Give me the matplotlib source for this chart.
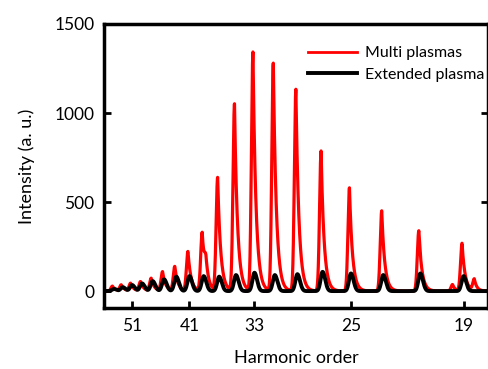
import numpy as np
import matplotlib
matplotlib.use("Agg")
import matplotlib.pyplot as plt

# -----------------------
# DATA (peak heights, a.u.)
# -----------------------
orders = [19, 21, 23, 25, 27, 29, 31, 33, 35, 37, 39, 41, 43, 45, 47, 49, 51, 53, 55]
multi_peaks = [268, 339, 451, 580, 787, 1133, 1279, 1341, 1050, 636, 324,
               221, 137, 108, 71, 52, 43, 34, 28]
extended_peaks = [84, 99, 90, 99, 108, 95, 90, 103, 90, 81, 84,
                  84, 81, 66, 56, 43, 34, 22, 12]
# small side features of the multi-plasma spectrum: (position in order, height)
multi_extra_pos = [38.7, 19.48, 18.55]
multi_extra_val = [110, 37, 65]

tick_orders = [51, 41, 33, 25, 19]

# -----------------------
# DETECTOR AXIS (position ~ order**-0.6)
# -----------------------
P = 0.6
def fwd(q):
    q = np.clip(np.asarray(q, dtype=float), 1e-3, None)
    return -q ** -P

def inv(u):
    u = np.clip(np.asarray(u, dtype=float), None, -1e-6)
    return (-u) ** (-1 / P)

px = 1 / 4347.0  # one pixel in position units
u = np.linspace(0.085, 0.18, 8000)
q_grid = u ** (-1 / P)

def line_shape(centers, heights, s_left, tau_right, shift=0.0):
    # steep gaussian rise, exponential tail towards longer wavelength
    y = np.zeros_like(u)
    for c, h in zip(centers, heights):
        d = u - (c ** -P + shift)
        left = np.exp(-0.5 * (d / s_left) ** 2)
        right = np.exp(-np.clip(d, 0, None) / tau_right)
        y += h * np.where(d < 0, left, right)
    return y

def smooth_shape(centers, heights, s_left, s_right):
    y = np.zeros_like(u)
    for c, h in zip(centers, heights):
        d = u - c ** -P
        s = np.where(d < 0, s_left, s_right)
        y += h * np.exp(-0.5 * (d / s) ** 2)
    return y

red = line_shape(orders, multi_peaks, 1.5 * px, 3.0 * px, shift=-1.5 * px)
red += line_shape(multi_extra_pos, multi_extra_val, 1.5 * px, 2.5 * px)
black = smooth_shape(orders, extended_peaks, 2.0 * px, 2.6 * px)

# -----------------------
# PLOT
# -----------------------
plt.rcParams["font.family"] = ["Lato", "DejaVu Sans"]
fig = plt.figure(figsize=(4.89, 3.69), dpi=100)
ax = fig.add_axes([104 / 489, 1 - 308 / 369, 384 / 489, 284 / 369])
ax.set_xscale("function", functions=(fwd, inv))

ax.plot(q_grid, red, color="#ff0000", lw=2.3, label="Multi plasmas", zorder=2)
ax.plot(q_grid, black, color="black", lw=2.8, label="Extended plasma", zorder=3)

ax.set_xlim(57.4, 18.0)
ax.set_ylim(-95, 1500)
ax.set_xticks(tick_orders)
ax.set_xticklabels([str(t) for t in tick_orders])
ax.minorticks_off()
ax.set_yticks([0, 500, 1000, 1500])

ax.tick_params(direction="in", length=5, width=2, labelsize=12.5, pad=7,
               right=True, top=False)
for sp in ax.spines.values():
    sp.set_linewidth(2.5)

ax.set_xlabel("Harmonic order", fontsize=13, labelpad=12)
ax.set_ylabel("Intensity (a. u.)", fontsize=13, labelpad=14)

leg = ax.legend(loc="upper left", bbox_to_anchor=(0.531, 0.922), frameon=False,
                fontsize=11.5, handlelength=3.1, handletextpad=0.45,
                labelspacing=0.45, borderpad=0, borderaxespad=0)
leg.get_lines()[0].set_linewidth(2.0)
leg.get_lines()[1].set_linewidth(2.8)

plt.savefig("out.png", dpi=100)
